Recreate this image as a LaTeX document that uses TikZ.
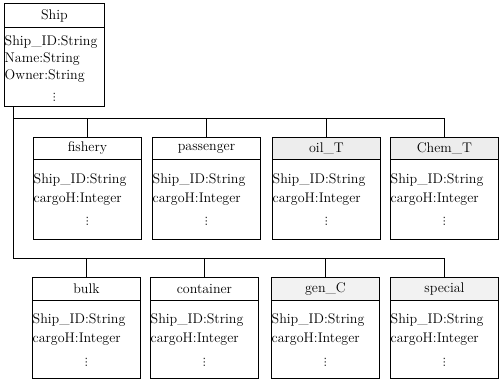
\documentclass[tikz,border=0pt]{standalone}
\usepackage{fontspec}
\newfontfamily\dotfont{DejaVu Sans}
\usetikzlibrary{positioning}
\newcommand\clsfont{\fontsize{14}{16}\selectfont}
\tikzset{
  clsbox/.style  ={draw=black,line width=0.9pt,minimum width=108pt,minimum height=102pt,
                   inner sep=0pt,anchor=north west},
  clshead/.style ={draw=black,line width=0.9pt,minimum width=108pt,minimum height=22pt,
                   inner sep=0pt,anchor=north,font=\clsfont},
  attr/.style    ={anchor=west,inner sep=0.5pt,font=\clsfont},
  cont/.style    ={inner sep=0pt,font=\dotfont\fontsize{10}{11}\selectfont},
  bus/.style     ={draw=black,line width=0.9pt},
}

\begin{document}
\begin{tikzpicture}[x=1pt,y=-1pt]
\useasboundingbox (0,0) rectangle (499,380);

%% ---------------- superclass ----------------
\node[clsbox,minimum width=100pt,minimum height=103pt] (ship) at (4,3) {};
\node[clshead,minimum width=100pt,minimum height=24pt] (ship-h) at (ship.north) {Ship};
\node[attr] (ship-a1) at ([yshift=-39pt]ship.north west) {Ship\_ID:String};
\node[attr] (ship-a2) at ([yshift=-56pt]ship.north west) {Name:String};
\node[attr] (ship-a3) at ([yshift=-73pt]ship.north west) {Owner:String};
\node[cont] (ship-c) at ([yshift=-94pt]ship.north) {⋮};

%% ---------------- subclasses, first row ----------------
\foreach \nm/\ttl/\lx/\fl in {fishery/fishery/33/white, passenger/passenger/152/white,
                              oilT/oil\_T/272/black!7, chemT/Chem\_T/390/black!7}{
  \node[clsbox] (\nm) at (\lx,137) {};
  \node[clshead,fill=\fl] (\nm-h) at (\nm.north) {\ttl};
  \node[attr] (\nm-a1) at ([yshift=-43pt]\nm.north west) {Ship\_ID:String};
  \node[attr] (\nm-a2) at ([yshift=-62pt]\nm.north west) {cargoH:Integer};
  \node[cont] (\nm-c) at ([yshift=-84pt]\nm.north) {⋮};
}

%% ---------------- subclasses, second row ----------------
\foreach \nm/\ttl/\lx/\fl in {bulk/bulk/32/white, container/container/150/white,
                              genC/gen\_C/271/black!5, special/special/390/black!5}{
  \node[clsbox,minimum height=101pt] (\nm) at (\lx,277) {};
  \node[clshead,minimum height=23pt,fill=\fl] (\nm-h) at (\nm.north) {\ttl};
  \node[attr] (\nm-a1) at ([yshift=-43pt]\nm.north west) {Ship\_ID:String};
  \node[attr] (\nm-a2) at ([yshift=-62pt]\nm.north west) {cargoH:Integer};
  \node[cont] (\nm-c) at ([yshift=-85pt]\nm.north) {⋮};
}

%% ---------------- inheritance buses ----------------
\coordinate (bus1) at (13,118);
\coordinate (bus2) at (13,258);
\draw[bus] (ship.south -| bus1) -- (bus2) -| (special.north);
\draw[bus] (bus1) -| (chemT.north);
\foreach \nm in {fishery,passenger,oilT}
  \draw[bus] (\nm.north) -- (\nm.north |- bus1);
\foreach \nm in {bulk,container,genC}
  \draw[bus] (\nm.north) -- (\nm.north |- bus2);

\end{tikzpicture}
\end{document}
